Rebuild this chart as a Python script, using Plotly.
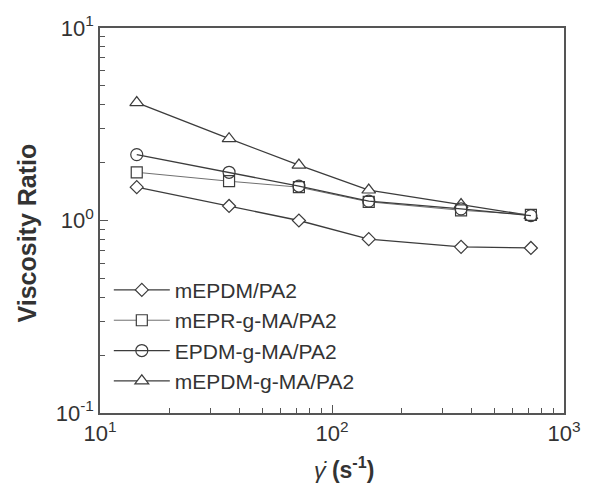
import plotly.graph_objects as go

# Shear rate (s^-1)
shear_rate = [14.4, 36, 72, 144, 360, 720]

# Viscosity ratio for each blend
mepdm_pa2 = [1.49, 1.19, 1.00, 0.80, 0.73, 0.72]
mepr_g_ma_pa2 = [1.78, 1.60, 1.49, 1.25, 1.13, 1.07]
epdm_g_ma_pa2 = [2.20, 1.78, 1.51, 1.26, 1.15, 1.06]
mepdm_g_ma_pa2 = [4.10, 2.66, 1.94, 1.44, 1.21, 1.06]

# (name, values, symbol, size, fill, line colour, line width, legend rank)
# Drawing order puts the square and circle series on top of the triangles.
series = [
    ("mEPDM/PA2", mepdm_pa2, "diamond", 10, "white", "#3c3c3c", 1.3, 1),
    ("mEPDM-g-MA/PA2", mepdm_g_ma_pa2, "triangle-up", 12, "white", "#3c3c3c", 1.3, 4),
    ("mEPR-g-MA/PA2", mepr_g_ma_pa2, "square", 11, "white", "#707070", 1.0, 2),
    ("EPDM-g-MA/PA2", epdm_g_ma_pa2, "circle-open", 12, None, "#3c3c3c", 1.3, 3),
]

major_x = [10, 100, 1000]
major_x_text = ["10<sup>1</sup>", "10<sup>2</sup>", "10<sup>3</sup>"]
major_y = [0.1, 1, 10]
major_y_text = ["10<sup>-1</sup>", "10<sup>0</sup>", "10<sup>1</sup>"]
minor_x = [m * 10 ** k for k in (1, 2) for m in range(2, 10)]
minor_y = [m * 10 ** k for k in (-1, 0) for m in range(2, 10)]

fig = go.Figure()
for name, vals, sym, size, fill, color, width, rank in series:
    marker = dict(symbol=sym, size=size, line=dict(color="#3c3c3c", width=1.2))
    marker["color"] = fill if fill else "#3c3c3c"
    fig.add_trace(go.Scatter(
        x=shear_rate, y=vals, name=name, mode="lines+markers",
        line=dict(color=color, width=width),
        marker=marker, legendrank=rank,
    ))

font = "Liberation Sans, Arial, sans-serif"
axis_common = dict(
    type="log", showgrid=False, zeroline=False,
    showline=True, linecolor="#555", linewidth=1.5, mirror=True,
    ticks="inside", ticklen=8, tickwidth=1, tickcolor="#555",
    tickfont=dict(family=font, size=22, color="#333"),
    tickmode="array",
)

fig.update_layout(
    width=593, height=487,
    margin=dict(l=100, r=17, t=26, b=74),
    paper_bgcolor="white", plot_bgcolor="white",
    font=dict(family=font, color="#333"),
    showlegend=True,
    legend=dict(
        x=0.019, y=0.372, xanchor="left", yanchor="top",
        bgcolor="rgba(0,0,0,0)", borderwidth=0,
        font=dict(family=font, size=21, color="#333"),
        tracegroupgap=0, itemwidth=56,
    ),
    xaxis=dict(
        **axis_common, range=[1, 3],
        tickvals=major_x, ticktext=major_x_text,
        minor=dict(tickmode="array", tickvals=minor_x, ticks="inside",
                   ticklen=5, tickcolor="#555"),
    ),
    yaxis=dict(
        **axis_common, range=[-1, 1],
        tickvals=major_y, ticktext=major_y_text,
        minor=dict(tickmode="array", tickvals=minor_y, ticks="inside",
                   ticklen=5, tickcolor="#555"),
    ),
    annotations=[
        dict(text="<b>Viscosity Ratio</b>", textangle=-90,
             xref="paper", yref="paper", x=-0.158, y=0.468,
             xanchor="center", yanchor="middle", showarrow=False,
             font=dict(family=font, size=25, color="#333")),
        dict(text="<i>γ̇</i> <b>(s<sup>-1</sup>)</b>",
             xref="paper", yref="paper", x=0.525, y=-0.144,
             xanchor="center", yanchor="middle", showarrow=False,
             font=dict(family=font, size=23, color="#333")),
    ],
)

fig.write_html("out.html")
